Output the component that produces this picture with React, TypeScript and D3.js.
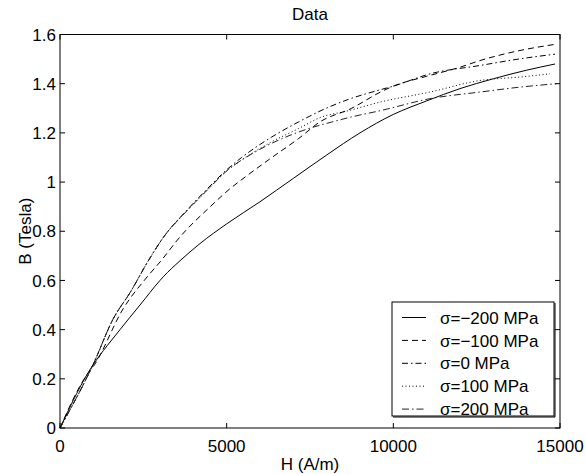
import React from "react";
import * as d3 from "d3";

const title = "Data";
const xLabel = "H (A/m)";
const yLabel = "B (Tesla)";
const xTicks = [0, 5000, 10000, 15000];
const yTicks = [0, 0.2, 0.4, 0.6, 0.8, 1, 1.2, 1.4, 1.6];

const seriesNames = ["σ=−200 MPa", "σ=−100 MPa", "σ=0 MPa", "σ=100 MPa", "σ=200 MPa"];

const hM200 = [0, 800, 1800, 2400, 3000, 3100, 3600, 4200, 5000, 6000, 7000, 8000, 9000, 10000, 11000, 12000, 13000, 14000, 14850];
const bM200 = [0, 0.215, 0.4, 0.5, 0.6, 0.615, 0.68, 0.75, 0.83, 0.92, 1.015, 1.11, 1.2, 1.275, 1.33, 1.38, 1.42, 1.455, 1.48];

const hM100 = [0, 800, 1000, 1900, 2650, 3000, 3600, 4500, 5100, 5550, 6450, 7150, 7800, 8750, 9600, 10000, 11000, 12000, 12600, 13800, 14850];
const bM100 = [0, 0.215, 0.25, 0.486, 0.62, 0.675, 0.777, 0.899, 0.973, 1.02, 1.109, 1.176, 1.245, 1.3, 1.365, 1.39, 1.43, 1.467, 1.494, 1.535, 1.56];

const h0 = [0, 1000, 1600, 2100, 2650, 3100, 3800, 4400, 5000, 5450, 6350, 7150, 7950, 8650, 9600, 10000, 11100, 12600, 13800, 14850];
const b0 = [0, 0.26, 0.445, 0.55, 0.68, 0.775, 0.885, 0.97, 1.05, 1.1, 1.183, 1.244, 1.298, 1.336, 1.375, 1.39, 1.44, 1.474, 1.501, 1.52];

const h100 = [0, 1000, 1600, 2100, 2650, 3100, 3800, 4400, 5000, 5450, 6300, 7150, 7800, 8650, 9600, 11100, 12600, 13800, 14700];
const b100 = [0, 0.26, 0.445, 0.55, 0.68, 0.775, 0.882, 0.965, 1.045, 1.09, 1.16, 1.217, 1.262, 1.29, 1.325, 1.366, 1.413, 1.427, 1.44];

const h200 = [0, 1000, 1600, 2100, 2650, 3100, 3800, 4400, 5000, 5850, 6650, 7450, 8150, 8750, 9600, 11100, 12600, 13800, 14900];
const b200 = [0, 0.26, 0.445, 0.55, 0.68, 0.775, 0.882, 0.965, 1.045, 1.122, 1.176, 1.217, 1.244, 1.265, 1.29, 1.339, 1.366, 1.386, 1.4];

const seriesH = [hM200, hM100, h0, h100, h200];
const seriesB = [bM200, bM100, b0, b100, b200];
const dashes = ["none", "6,4", "6,3,1.5,3", "1,2.5", "7,3,1.5,3"];
const colors = ["#000", "#000", "#000", "#000", "#222"];

const W = 586, H = 474;
const left = 60, right = 560, top = 34.5, bottom = 428;
const font = "'Liberation Sans', Arial, Helvetica, sans-serif";
const fs = 17;

export default function App() {
  const x = d3.scaleLinear().domain([0, 15000]).range([left, right]);
  const y = d3.scaleLinear().domain([0, 1.6]).range([bottom, top]);
  const line = d3.line<[number, number]>().x(d => x(d[0])).y(d => y(d[1])).curve(d3.curveMonotoneX);
  const tl = 5;

  const legX = 392, legY = 302, legW = 162, legH = 114;
  const rowY = (i: number) => 317.5 + i * 22.9;

  return (
    <svg width={W} height={H} style={{ position: "absolute", left: 0, top: 0, background: "#fff" }}
      fontFamily={font} fontSize={fs}>
      <rect x={0} y={0} width={W} height={H} fill="#fff" />
      {seriesH.map((hs, i) => (
        <path key={i} d={line(hs.map((h, j) => [h, seriesB[i][j]]) as [number, number][]) || ""}
          fill="none" stroke={colors[i]} strokeWidth={1} strokeDasharray={dashes[i]} />
      ))}
      <rect x={left} y={top} width={right - left} height={bottom - top} fill="none" stroke="#000" strokeWidth={1} />
      {xTicks.map(t => (
        <g key={"x" + t}>
          <line x1={x(t)} x2={x(t)} y1={bottom} y2={bottom - tl} stroke="#000" />
          <line x1={x(t)} x2={x(t)} y1={top} y2={top + tl} stroke="#000" />
          <text x={x(t)} y={452} textAnchor="middle">{String(t)}</text>
        </g>
      ))}
      {yTicks.map(t => (
        <g key={"y" + t}>
          <line x1={left} x2={left + tl} y1={y(t)} y2={y(t)} stroke="#000" />
          <line x1={right} x2={right - tl} y1={y(t)} y2={y(t)} stroke="#000" />
          <text x={56} y={y(t)} dy="0.36em" textAnchor="end">{d3.format("~g")(t)}</text>
        </g>
      ))}
      <text x={(left + right) / 2} y={20} textAnchor="middle">{title}</text>
      <text x={(left + right) / 2} y={470} textAnchor="middle">{xLabel}</text>
      <text transform={`translate(31,${(top + bottom) / 2}) rotate(-90)`} textAnchor="middle">{yLabel}</text>
      <rect x={legX} y={legY} width={legW} height={legH} fill="#fff" stroke="#000" strokeWidth={1} />
      <line x1={legX + 1} x2={legX + legW + 1} y1={legY + legH + 1} y2={legY + legH + 1} stroke="#000" />
      <line x1={legX + legW + 1} x2={legX + legW + 1} y1={legY + 1} y2={legY + legH + 1} stroke="#000" />
      {seriesNames.map((n, i) => (
        <g key={n}>
          <line x1={402} x2={426} y1={rowY(i)} y2={rowY(i)} stroke={colors[i]} strokeDasharray={dashes[i]} />
          <text x={440} y={rowY(i)} dy="0.36em">{n}</text>
        </g>
      ))}
    </svg>
  );
}
